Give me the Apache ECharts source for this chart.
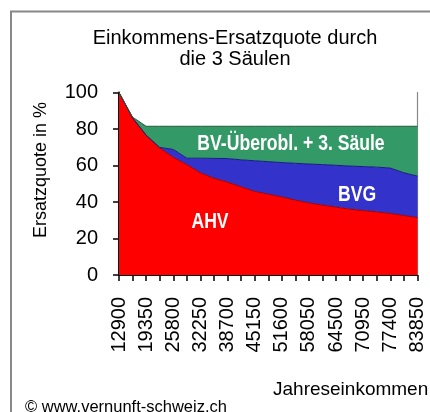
<!DOCTYPE html>
<html>
<head>
<meta charset="utf-8">
<script src="https://cdn.jsdelivr.net/npm/echarts@6/dist/echarts.min.js"></script>
<style>
html,body{margin:0;padding:0;background:#fff;}
#c{width:430px;height:412px;}
</style>
</head>
<body>
<div id="c"></div>
<script>
var categories = ['12900','16125','19350','22575','25800','29025','32250','35475','38700','41925','45150','48375','51600','54825','58050','61275','64500','67725','70950','74175','77400','80625','83850'];
var ahv = [100, 86.1, 76.6, 69.6, 64.5, 60.5, 56, 53, 50.9, 48.3, 45.8, 44.3, 42.8, 41, 39.5, 38.3, 37.2, 36.1, 35.3, 34.6, 33.7, 32.6, 31.5];
var bvg = [0, 0, 0, 0.3, 4.3, 3.5, 8, 10.9, 12.9, 14.8, 16.8, 17.8, 18.8, 20.2, 21.3, 22.2, 22.9, 23.6, 24.1, 24.5, 24.9, 23.4, 22.7];
var saeule3 = [0, 0.4, 4.9, 11.6, 12.7, 17.5, 17.5, 17.6, 17.7, 18.4, 18.9, 19.4, 19.9, 20.3, 20.7, 21, 21.4, 21.8, 22.1, 22.4, 22.9, 25.5, 27.3];
var yTicks = {min: 0, max: 100, interval: 20};
var titleText = 'Einkommens-Ersatzquote durch\ndie 3 Säulen';
var yTitle = 'Ersatzquote in %';
var xTitle = 'Jahreseinkommen';
var credit = '© www.vernunft-schweiz.ch';

var FONT = '"Liberation Sans", Arial, Helvetica, sans-serif';
var chart = echarts.init(document.getElementById('c'), null, {renderer: 'canvas'});
function inLabel(text, x, y) {
  return {type: 'text', x: x, y: y, scaleX: 0.8, z: 100,
    style: {text: text, fontSize: 22, fontWeight: 'bold', fontFamily: FONT, fill: '#fff', textAlign: 'center', textVerticalAlign: 'middle'}};
}
chart.setOption({
  animation: false,
  backgroundColor: '#ffffff',
  grid: {left: 119, right: 12.5, top: 92.5, bottom: 137, containLabel: false},
  xAxis: {
    type: 'category', data: categories, boundaryGap: false,
    axisLine: {show: true, lineStyle: {color: '#000', width: 1}},
    axisTick: {show: true, interval: 0, length: 6, lineStyle: {color: '#000', width: 1.5}},
    axisLabel: {interval: 1, rotate: 90, fontSize: 20, color: '#000', fontFamily: FONT, margin: 22},
    splitLine: {show: false}
  },
  yAxis: [{
    type: 'value', min: yTicks.min, max: yTicks.max, interval: yTicks.interval,
    axisLine: {show: true, lineStyle: {color: '#000', width: 2}},
    axisTick: {show: true, length: 6, lineStyle: {color: '#000', width: 1.5}},
    axisLabel: {fontSize: 20, color: '#000', fontFamily: FONT, margin: 21},
    splitLine: {show: false}
  }, {
    type: 'value', position: 'right', min: yTicks.min, max: yTicks.max, interval: yTicks.interval,
    axisLine: {show: true, lineStyle: {color: '#888', width: 1.2}},
    axisTick: {show: false}, axisLabel: {show: false}, splitLine: {show: false}
  }],
  series: [
    {name: 'AHV', type: 'line', stack: 'a', data: ahv, symbol: 'none',
     lineStyle: {color: '#a00000', width: 1}, areaStyle: {color: '#ff0000', opacity: 1}, itemStyle: {color: '#ff0000'}},
    {name: 'BVG', type: 'line', stack: 'a', data: bvg, symbol: 'none',
     lineStyle: {color: '#1a1a80', width: 1}, areaStyle: {color: '#3333cc', opacity: 1}, itemStyle: {color: '#3333cc'}},
    {name: 'BV-Überobl. + 3. Säule', type: 'line', stack: 'a', data: saeule3, symbol: 'none',
     lineStyle: {color: '#2a5a40', width: 1}, areaStyle: {color: '#339966', opacity: 1}, itemStyle: {color: '#339966'}}
  ],
  graphic: [
    {type: 'rect', shape: {x: 11, y: 11.5, width: 600, height: 600}, style: {fill: 'none', stroke: '#888', lineWidth: 2}, silent: true},
    {type: 'text', x: 235, y: 28, style: {text: titleText, fontSize: 20, lineHeight: 21, fontFamily: FONT, fill: '#000', textAlign: 'center', textVerticalAlign: 'top'}},
    {type: 'text', x: 41, y: 170, rotation: Math.PI / 2, style: {text: yTitle, fontSize: 18, fontFamily: FONT, fill: '#000', textAlign: 'center', textVerticalAlign: 'middle'}},
    {type: 'text', x: 273, y: 380, style: {text: xTitle, fontSize: 19, fontFamily: FONT, fill: '#000', textAlign: 'left', textVerticalAlign: 'top'}},
    {type: 'text', x: 25, y: 399, style: {text: credit, fontSize: 16.5, fontFamily: FONT, fill: '#000', textAlign: 'left', textVerticalAlign: 'top'}},
    inLabel('BV-Überobl. + 3. Säule', 291, 144),
    inLabel('BVG', 357, 195),
    inLabel('AHV', 210, 222)
  ]
});
</script>
</body>
</html>
